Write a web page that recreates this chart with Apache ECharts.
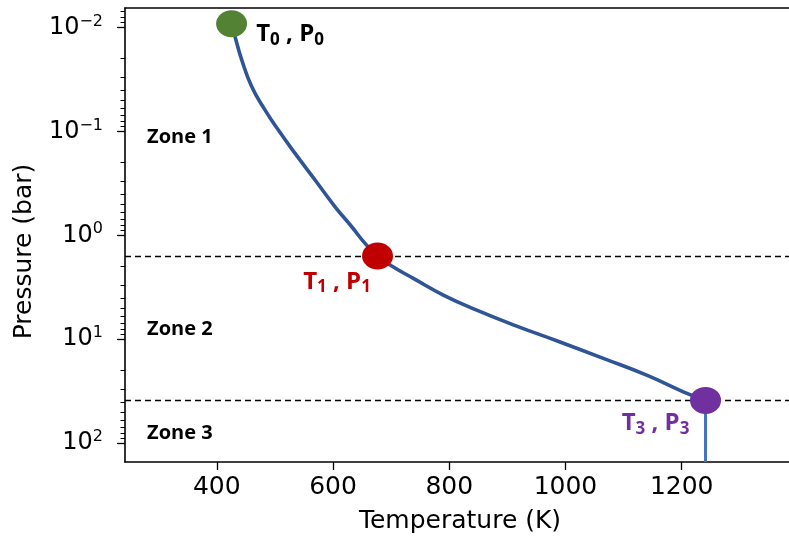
<!DOCTYPE html>
<html><head><meta charset="utf-8">
<script src="https://cdn.jsdelivr.net/npm/echarts@6/dist/echarts.min.js"></script>
<style>html,body{margin:0;padding:0;background:#fff}#c{width:789px;height:539px}</style>
</head><body><div id="c"></div>
<script>
// ---- data ----
const xTicks = [400, 600, 800, 1000, 1200];
const yTicks = [0.01, 0.1, 1, 10, 100];
const xRange = [242, 1395];
const yRange = [0.0065, 152];
const profileT = [425.4, 431.4, 443.0, 460.2, 483.1, 505.9, 534.7, 569.1, 603.5, 632.2, 655.1, 676.6, 698.1, 738.2, 789.8, 847.3, 916.1, 984.9, 1065.1, 1139.7, 1202.7, 1241];
const profileP = [0.0092, 0.0123, 0.0206, 0.0372, 0.0625, 0.0972, 0.163, 0.294, 0.532, 0.828, 1.197, 1.585, 1.936, 2.60, 3.76, 5.25, 7.48, 10.36, 15.3, 22.2, 32.1, 38.8];
const pointIdx = ['0', '1', '3'];
const pointT = [425.4, 676.6, 1241];
const pointP = [0.0092, 1.585, 38.8];
const zoneNames = ['Zone 1', 'Zone 2', 'Zone 3'];
const zoneT = [280, 280, 280];
const zoneP = [0.1135, 8.0, 80];
const boundaryP = [1.585, 38.8];

// ---- styles ----
const pointColors = ['#548235', '#C00000', '#7030A0'];
const labelColors = ['#000000', '#C00000', '#7030A0'];
const labelOffsets = [[58.5, 10.5], [-40.5, 26], [-50, 23]];

const chart = echarts.init(document.getElementById('c'), null, {renderer: 'canvas'});

function supLabel(v) {
  const e = Math.round(Math.log10(v));
  return '{b|10}{e|' + (e < 0 ? '\u2212' + (-e) : String(e)) + '}';
}

const axisFont = 'DejaVu Sans';
const option = {
  animation: false,
  grid: {left: 125, top: 8, right: -6, bottom: 77, containLabel: false, outerBoundsMode: 'none'},
  xAxis: [{
    type: 'value', min: xRange[0], max: xRange[1], position: 'bottom',
    name: 'Temperature (K)', nameLocation: 'middle', nameGap: 47,
    nameTextStyle: {fontFamily: axisFont, fontSize: 25, color: '#000'},
    axisLine: {show: true, onZero: false, lineStyle: {color: '#000', width: 1.6}},
    axisTick: {show: true, inside: false, length: 8, customValues: xTicks, lineStyle: {color: '#000', width: 1.3}},
    axisLabel: {show: true, margin: 13, customValues: xTicks, formatter: v => String(v), fontFamily: axisFont, fontSize: 25, color: '#000'},
    splitLine: {show: false}
  }, {
    type: 'value', min: xRange[0], max: xRange[1], position: 'top',
    axisLine: {show: true, onZero: false, lineStyle: {color: '#000', width: 1.6}},
    axisTick: {show: false}, axisLabel: {show: false}, splitLine: {show: false}
  }],
  yAxis: [{
    type: 'log', logBase: 10, min: yRange[0], max: yRange[1], inverse: true,
    name: 'Pressure (bar)', nameLocation: 'middle', nameGap: 88, nameRotate: 90,
    nameTextStyle: {fontFamily: axisFont, fontSize: 25, color: '#000', padding: [0, 33, 0, 0]},
    axisLine: {show: true, onZero: false, lineStyle: {color: '#000', width: 1.6}},
    axisTick: {show: true, length: 8, customValues: yTicks, lineStyle: {color: '#000', width: 1.3}},
    minorTick: {show: true, splitNumber: 9, length: 4.5, lineStyle: {color: '#000', width: 1}},
    axisLabel: {
      show: true, margin: 22, customValues: yTicks, formatter: supLabel,
      rich: {
        b: {fontFamily: axisFont, fontSize: 24, lineHeight: 28, color: '#000'},
        e: {fontFamily: axisFont, fontSize: 16, lineHeight: 14, verticalAlign: 'top', color: '#000'}
      }
    },
    splitLine: {show: false}, minorSplitLine: {show: false}
  }],
  series: [
    {
      type: 'line', name: 'profile', xAxisIndex: 0, yAxisIndex: 0,
      data: profileT.map((t, i) => [t, profileP[i]]),
      smooth: 0.5, showSymbol: false, symbol: 'none',
      lineStyle: {color: '#2F5597', width: 3.6}, z: 3,
      markLine: {
        silent: true, symbol: ['none', 'none'], label: {show: false},
        lineStyle: {color: '#000', width: 1.4, type: [6, 4]},
        data: boundaryP.map(p => ({yAxis: p}))
      }
    },
    {
      type: 'line', name: 'deep', xAxisIndex: 0, yAxisIndex: 0,
      data: [[pointT[2], pointP[2]], [pointT[2], yRange[1]]],
      showSymbol: false, symbol: 'none',
      lineStyle: {color: '#4472C4', width: 3}, z: 3
    },
    {
      type: 'scatter', name: 'points', xAxisIndex: 0, yAxisIndex: 0,
      symbol: 'circle', symbolSize: [31, 27], z: 5,
      data: pointT.map((t, i) => ({
        value: [t, pointP[i]],
        itemStyle: {color: pointColors[i], opacity: 1},
        label: {
          show: true, position: 'inside', offset: labelOffsets[i],
          formatter: '{m|T}{s|' + pointIdx[i] + '}{m| , P}{s|' + pointIdx[i] + '}',
          rich: {
            m: {fontFamily: 'Open Sans', fontWeight: 'bold', fontSize: 24, lineHeight: 28, color: labelColors[i]},
            s: {fontFamily: 'Open Sans', fontWeight: 'bold', fontSize: 17, lineHeight: 14, verticalAlign: 'bottom', color: labelColors[i]}
          }
        }
      }))
    },
    {
      type: 'scatter', name: 'zones', xAxisIndex: 0, yAxisIndex: 0,
      symbolSize: 0, z: 4,
      data: zoneNames.map((n, i) => ({value: [zoneT[i], zoneP[i]], name: n})),
      label: {
        show: true, position: 'right', distance: 0, formatter: p => '{z|' + p.name + '}',
        rich: {z: {fontFamily: 'Open Sans', fontWeight: 'bold', fontSize: 20, color: '#000000', opacity: 1}}
      },
      itemStyle: {opacity: 1}
    }
  ]
};
chart.setOption(option);
</script>
</body></html>
